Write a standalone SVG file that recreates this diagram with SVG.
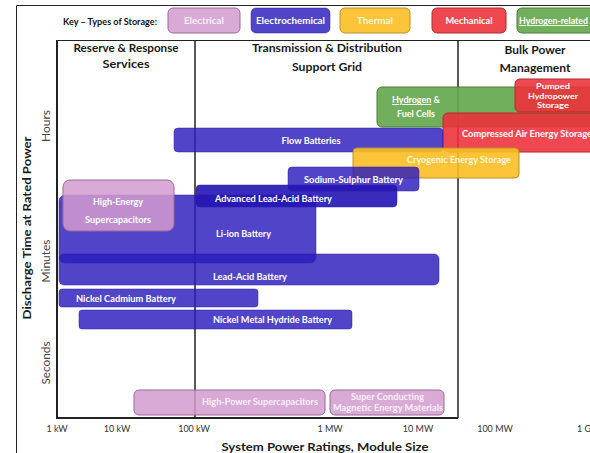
<svg xmlns="http://www.w3.org/2000/svg" width="590" height="453" viewBox="0 0 590 453">
<style>
text{font-family:Lato,"Liberation Sans",Arial,sans-serif}
.t{fill:#fff;font-weight:bold;font-size:9px;text-anchor:middle}
.k{fill:#fff;font-weight:bold;font-size:9px;text-anchor:middle}
.h{fill:#1a1a1a;font-weight:bold;font-size:12px;text-anchor:middle}
.tick{fill:#333;font-size:9px;text-anchor:middle}
.ax{fill:#444;font-size:11.5px;text-anchor:middle}
.el{fill:#d39bcf;stroke:#9a6a98;stroke-width:1;fill-opacity:.85}
.ec{fill:#2a1cbc;stroke:#2a1ca0;stroke-width:.8;fill-opacity:.82;stroke-opacity:.6}
.th{fill:#fcbf24;stroke:#b8902a;stroke-width:1;fill-opacity:.9}
.me{fill:#ee2f38;stroke:#b02a2a;stroke-width:1;fill-opacity:.88}
.hy{fill:#66a84e;stroke:#4a7d3a;stroke-width:1;fill-opacity:.92}
.ln{stroke:#222;fill:none}
</style>
<rect width="590" height="453" fill="#fff"/>
<g id="frame">
<path class="ln" d="M16.5 453V5.5H590" stroke-width="1" stroke="#555"/>
<path class="ln" d="M57 40.5H590" stroke-width="1.2"/>
<path class="ln" d="M57 40V418H458" stroke-width="2"/>
<path class="ln" d="M195 40V418M458 40V418" stroke-width="1.5"/>
</g>
<g id="key">
<text x="63" y="25" textLength="94" lengthAdjust="spacingAndGlyphs" style="font-size:9px;font-weight:bold;fill:#111">Key – Types of Storage:</text>
<g id="key-electrical"><rect class="el" x="168" y="8" width="72" height="25" rx="5" fill-opacity="1"/><text class="k" x="204" y="24" textLength="40" lengthAdjust="spacingAndGlyphs" fill-opacity=".85">Electrical</text></g>
<g id="key-electrochemical"><rect class="ec" x="251" y="8" width="79" height="25" rx="5"/><text class="k" x="290.5" y="24" textLength="69" lengthAdjust="spacingAndGlyphs">Electrochemical</text></g>
<g id="key-thermal"><rect class="th" x="340" y="8" width="70" height="25" rx="5"/><text class="k" x="375" y="24" textLength="36" lengthAdjust="spacingAndGlyphs" fill-opacity=".85">Thermal</text></g>
<g id="key-mechanical"><rect class="me" x="432" y="8" width="74" height="25" rx="5"/><text class="k" x="469" y="24" textLength="47" lengthAdjust="spacingAndGlyphs">Mechanical</text></g>
<g id="key-hydrogen"><rect class="hy" x="517" y="8" width="80" height="25" rx="5"/><text class="k" x="553.5" y="24" textLength="69" lengthAdjust="spacingAndGlyphs" text-decoration="underline">Hydrogen-related</text></g>
</g>
<g id="headers">
<text class="h" x="126" y="52" textLength="105" lengthAdjust="spacingAndGlyphs">Reserve &amp; Response</text>
<text class="h" x="126" y="68" textLength="47" lengthAdjust="spacingAndGlyphs">Services</text>
<text class="h" x="327" y="52" textLength="150" lengthAdjust="spacingAndGlyphs">Transmission &amp; Distribution</text>
<text class="h" x="327" y="71" textLength="70" lengthAdjust="spacingAndGlyphs">Support Grid</text>
<text class="h" x="535" y="54" textLength="61" lengthAdjust="spacingAndGlyphs">Bulk Power</text>
<text class="h" x="535" y="72" textLength="71" lengthAdjust="spacingAndGlyphs">Management</text>
</g>
<g id="connectors"></g>
<g id="hydrogen-fuel-cells"><rect class="hy" x="377" y="87" width="230" height="40" rx="5"/>
<text class="t" x="416" y="103" textLength="48" lengthAdjust="spacingAndGlyphs"><tspan text-decoration="underline">Hydrogen</tspan> &amp;</text>
<text class="t" x="416" y="117" textLength="38" lengthAdjust="spacingAndGlyphs">Fuel Cells</text></g>
<g id="pumped-hydro"><rect class="me" x="515" y="79" width="90" height="33" rx="5"/>
<text class="t" x="553" y="89" style="font-size:7.6px" textLength="34" lengthAdjust="spacingAndGlyphs">Pumped</text>
<text class="t" x="553" y="98.5" style="font-size:7.6px" textLength="50" lengthAdjust="spacingAndGlyphs">Hydropower</text>
<text class="t" x="553" y="108" style="font-size:7.6px" textLength="32" lengthAdjust="spacingAndGlyphs">Storage</text></g>
<g id="compressed-air"><rect class="me" x="443" y="113" width="160" height="39" rx="5"/>
<text class="t" x="462" y="137" textLength="130" lengthAdjust="spacingAndGlyphs" style="text-anchor:start">Compressed Air Energy Storage</text></g>
<g id="flow-batteries"><rect class="ec" x="174" y="128" width="269" height="24" rx="4"/>
<text class="t" x="311" y="144" textLength="59" lengthAdjust="spacingAndGlyphs">Flow Batteries</text></g>
<g id="cryogenic"><rect class="th" x="353" y="148" width="166" height="30" rx="4"/>
<text class="t" x="459" y="163" textLength="104" lengthAdjust="spacingAndGlyphs" fill-opacity=".85">Cryogenic Energy Storage</text></g>
<g id="sodium-sulphur"><rect class="ec" x="288" y="167" width="131" height="24" rx="4"/>
<text class="t" x="353.5" y="183" textLength="99" lengthAdjust="spacingAndGlyphs">Sodium-Sulphur Battery</text></g>
<g id="li-ion"><rect class="ec" x="59" y="195" width="257" height="68" rx="6"/>
<text class="t" x="243.5" y="237" textLength="55" lengthAdjust="spacingAndGlyphs">Li-ion Battery</text></g>
<g id="lead-acid"><rect class="ec" x="59" y="254" width="380" height="31" rx="5"/>
<text class="t" x="250" y="280" textLength="74" lengthAdjust="spacingAndGlyphs">Lead-Acid Battery</text></g>
<g id="advanced-lead-acid"><rect class="ec" x="196" y="185" width="201" height="22" rx="4" style="fill:#2414b4;fill-opacity:.9"/>
<text class="t" x="273.5" y="202" textLength="117" lengthAdjust="spacingAndGlyphs">Advanced Lead-Acid Battery</text></g>
<g id="high-energy-supercaps"><rect class="el" x="63" y="180" width="111" height="51" rx="7"/>
<text class="t" x="118" y="205" textLength="50" lengthAdjust="spacingAndGlyphs">High-Energy</text>
<text class="t" x="118" y="223" textLength="66" lengthAdjust="spacingAndGlyphs">Supercapacitors</text></g>
<g id="nickel-cadmium"><rect class="ec" x="59" y="289" width="199" height="18" rx="3"/>
<text class="t" x="126" y="302" textLength="100" lengthAdjust="spacingAndGlyphs">Nickel Cadmium Battery</text></g>
<g id="nickel-metal-hydride"><rect class="ec" x="79" y="310" width="273" height="19" rx="3"/>
<text class="t" x="272.5" y="323" textLength="119" lengthAdjust="spacingAndGlyphs">Nickel Metal Hydride Battery</text></g>
<g id="high-power-supercaps"><rect class="el" x="134" y="390" width="191" height="25" rx="5"/>
<text class="t" x="260" y="405" textLength="116" lengthAdjust="spacingAndGlyphs" fill-opacity=".85">High-Power Supercapacitors</text></g>
<g id="smes"><rect class="el" x="330" y="390" width="114" height="25" rx="5"/>
<text class="t" x="387.5" y="400" textLength="73" lengthAdjust="spacingAndGlyphs" fill-opacity=".85">Super Conducting</text>
<text class="t" x="388" y="411" textLength="110" lengthAdjust="spacingAndGlyphs" fill-opacity=".85">Magnetic Energy Materials</text></g>
<g id="y-axis">
<text class="h" transform="rotate(-90 31 228)" x="31" y="228" textLength="183" lengthAdjust="spacingAndGlyphs">Discharge Time at Rated Power</text>
<text class="ax" transform="rotate(-90 50 126)" x="50" y="126" textLength="32" lengthAdjust="spacingAndGlyphs">Hours</text>
<text class="ax" transform="rotate(-90 50 261)" x="50" y="261" textLength="43" lengthAdjust="spacingAndGlyphs">Minutes</text>
<text class="ax" transform="rotate(-90 50 363)" x="50" y="363" textLength="43" lengthAdjust="spacingAndGlyphs">Seconds</text>
</g>
<g id="x-axis">
<text class="tick" x="57" y="432">1 kW</text>
<text class="tick" x="117" y="432">10 kW</text>
<text class="tick" x="194" y="432">100 kW</text>
<text class="tick" x="330" y="432">1 MW</text>
<text class="tick" x="418" y="432">10 MW</text>
<text class="tick" x="495" y="432">100 MW</text>
<text class="tick" x="577" y="432" style="text-anchor:start">1 G</text>
<text class="h" x="325" y="451" textLength="207" lengthAdjust="spacingAndGlyphs">System Power Ratings, Module Size</text>
</g>
</svg>
